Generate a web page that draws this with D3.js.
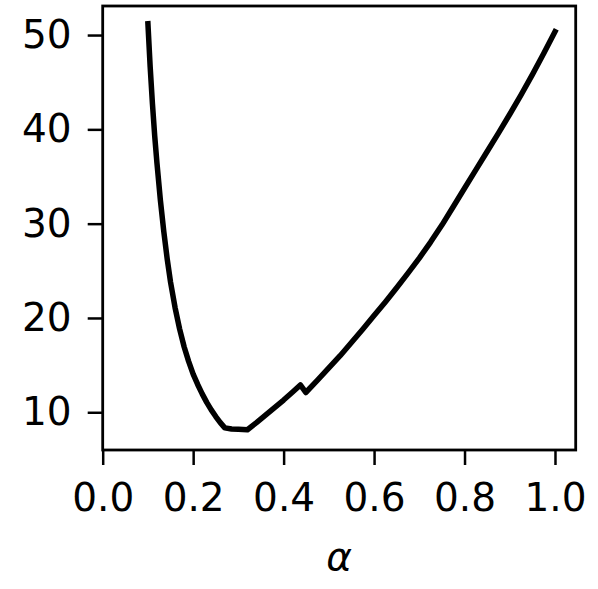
<!DOCTYPE html>
<html>
<head>
<meta charset="utf-8">
<script src="https://cdn.jsdelivr.net/npm/d3@7/dist/d3.min.js"></script>
<style>
    body { margin: 0; background: white; }
    .tick text { font-family: "DejaVu Sans", sans-serif; font-size: 39px; fill: black; }
</style>
</head>
<body>
<svg id="mainsvg" width="598" height="589"></svg>
<script>
    // curve values
    const alphaVals = [0.100, 0.105, 0.110, 0.115, 0.120, 0.1275, 0.135, 0.1425, 0.150, 0.160,
                       0.170, 0.180, 0.190, 0.200, 0.210, 0.220, 0.230, 0.240, 0.250, 0.260,
                       0.270, 0.285, 0.300, 0.320, 0.340, 0.360, 0.380, 0.400, 0.420, 0.437,
                       0.449, 0.475, 0.500, 0.525, 0.550, 0.575, 0.600, 0.625, 0.650, 0.675,
                       0.700, 0.725, 0.750, 0.775, 0.800, 0.825, 0.850, 0.875, 0.900, 0.925,
                       0.950, 0.975, 1.000];
    const lossVals = [51.2, 46.6, 42.7, 39.3, 36.4, 32.5, 29.2, 26.3, 23.8, 21.1,
                      18.85, 16.95, 15.4, 14.05, 12.95, 11.95, 11.05, 10.25, 9.55, 8.9,
                      8.35, 8.22, 8.2, 8.15, 8.9, 9.7, 10.5, 11.3, 12.15, 12.9,
                      12.1, 13.4, 14.7, 16.0, 17.4, 18.8, 20.25, 21.7, 23.2, 24.75,
                      26.35, 28.05, 29.85, 31.8, 33.75, 35.7, 37.65, 39.6, 41.6, 43.65,
                      45.8, 48.05, 50.35];
    const xTicks = [0.0, 0.2, 0.4, 0.6, 0.8, 1.0];
    const yTicks = [10, 20, 30, 40, 50];

    const svg = d3.select('#mainsvg');
    const plotL = 102.7, plotR = 575.7, plotT = 6, plotB = 450;

    const x = d3.scaleLinear().domain([0, 1.0458]).range([plotL, plotR]);
    const y = d3.scaleLinear().domain([6.0, 53.08]).range([plotB, plotT]);

    const data = alphaVals.map((a, i) => ({ a: a, v: lossVals[i] }));

    const line = d3.line().x(d => x(d.a)).y(d => y(d.v));

    svg.append('path')
        .datum(data)
        .attr('d', line)
        .attr('fill', 'none')
        .attr('stroke', 'black')
        .attr('stroke-width', 5.5)
        .attr('stroke-linejoin', 'round')
        .attr('stroke-linecap', 'square');

    // axes
    const xAxis = svg.append('g')
        .attr('transform', `translate(0,${plotB})`)
        .call(d3.axisBottom(x).tickValues(xTicks).tickFormat(d3.format('.1f')).tickSize(15).tickPadding(18));
    const yAxis = svg.append('g')
        .attr('transform', `translate(${plotL},0)`)
        .call(d3.axisLeft(y).tickValues(yTicks).tickSize(15).tickPadding(16));

    [xAxis, yAxis].forEach(g => {
        g.select('.domain').remove();
        g.selectAll('.tick line').attr('stroke', 'black').attr('stroke-width', 2.5);
    });

    // frame
    svg.append('rect')
        .attr('x', plotL).attr('y', plotT)
        .attr('width', plotR - plotL).attr('height', plotB - plotT)
        .attr('fill', 'none')
        .attr('stroke', 'black')
        .attr('stroke-width', 2.8);

    svg.append('text')
        .attr('x', (plotL + plotR) / 2)
        .attr('y', 570)
        .attr('text-anchor', 'middle')
        .attr('font-family', 'DejaVu Sans, sans-serif')
        .attr('font-style', 'italic')
        .attr('font-size', 39)
        .text('α');
</script>
</body>
</html>
